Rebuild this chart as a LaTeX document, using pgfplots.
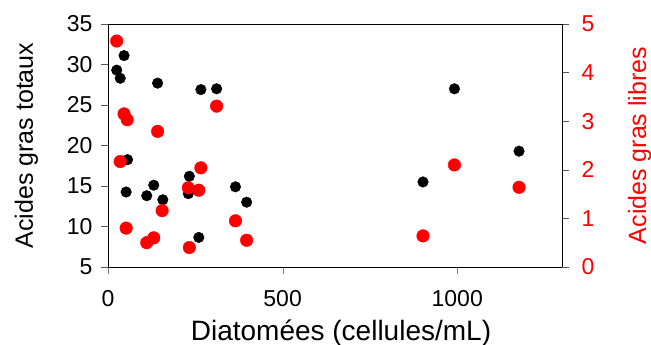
\documentclass[border=0pt]{standalone}
\usepackage{pgfplots}
\pgfplotsset{compat=1.18}
\usepackage{fontspec}
\setmainfont{Liberation Sans}
\begin{document}
\begin{tikzpicture}
\pgfplotsset{
  every axis/.append style={
    scale only axis, width=454pt, height=243pt,
    xmin=0, xmax=1300,
    /pgf/number format/assume math mode=true,
    /pgf/number format/1000 sep={},
    tick align=outside, major tick length=7pt,
    tick label style={font=\fontsize{23}{27}\selectfont},
    clip=false,
  },
}
\begin{axis}[
  ymin=5, ymax=35, ytick={5,10,...,35}, xtick={0,500,1000},
  xtick pos=bottom, ytick pos=left,
  ytick style={draw=black!65},
  xticklabel style={anchor=base, yshift=-33pt},
  yticklabel style={xshift=-5pt},
  xlabel={Diatomées (cellules/mL)},
  ylabel={Acides gras totaux},
  xlabel style={font=\fontsize{28}{33}\selectfont, at={(axis description cs:0.5,0)}, anchor=base, yshift=-73.5pt, xshift=6pt, inner sep=0pt},
  ylabel style={font=\fontsize{25}{30}\selectfont, at={(axis description cs:0,0.5)}, anchor=base, yshift=75pt, inner sep=0pt},
]
\addplot[only marks, mark=*, mark size=5.3pt, black] coordinates {
(46,31.1) (25,29.3) (35,28.3) (142,27.7) (266,26.9) (311,27.0) (56,18.25)
(52,14.26) (111,13.8) (131,15.1) (157,13.3) (233,16.2) (230,14.05) (260,8.65)
(365,14.9) (397,13.0) (992,27.0) (902,15.5) (1177,19.3)
};
\end{axis}
\begin{axis}[
  axis y line*=right, hide x axis,
  ymin=0, ymax=5, ytick={0,1,...,5},
  ytick style={draw=black!65},
  yticklabel style={red, xshift=9pt},
  ylabel={Acides gras libres},
  ylabel style={red, font=\fontsize{25}{30}\selectfont, at={(axis description cs:1,0.5)}, anchor=base, yshift=-84pt, inner sep=0pt},
]
\addplot[only marks, mark=*, mark size=6.3pt, red] coordinates {
(25,4.65) (46,3.15) (55,3.03) (142,2.79) (311,3.31) (35,2.17) (266,2.04)
(230,1.63) (260,1.58) (155,1.16) (52,0.80) (111,0.50) (131,0.60) (233,0.40)
(365,0.95) (397,0.55) (992,2.10) (902,0.64) (1177,1.64)
};
\end{axis}
\pgfresetboundingbox
\path[use as bounding box] (-108pt,-78pt) rectangle (543pt,267pt);
\end{tikzpicture}
\end{document}
